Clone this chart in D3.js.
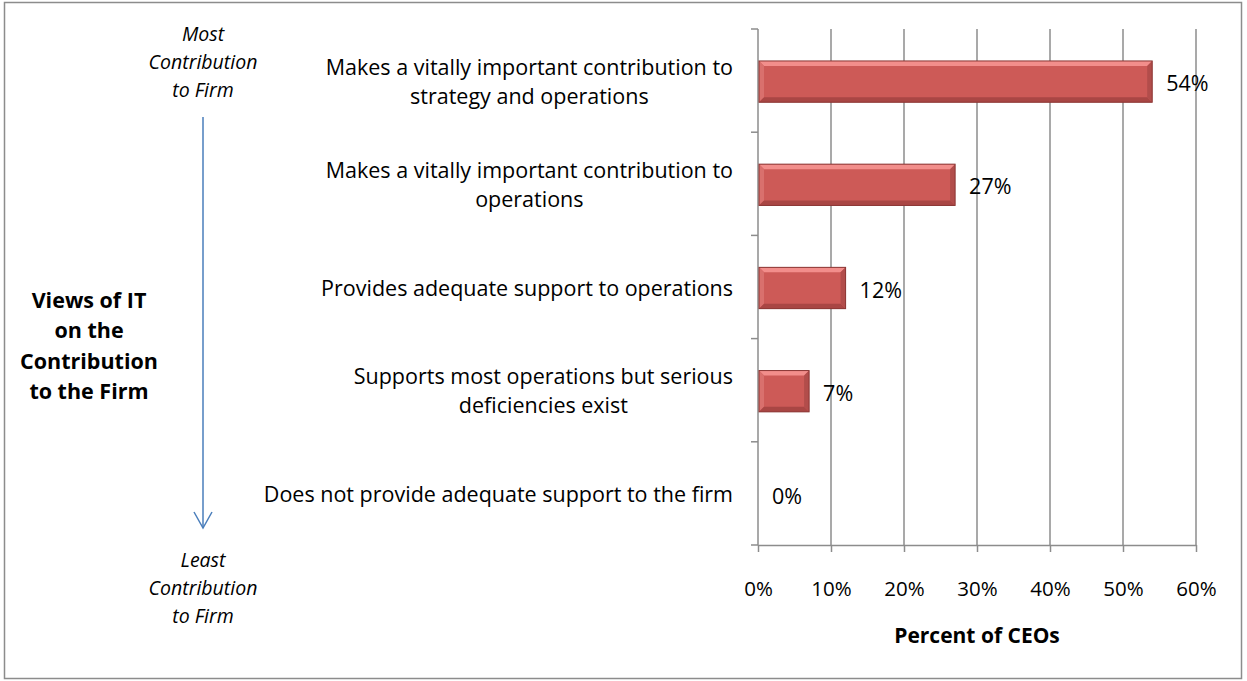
<!DOCTYPE html>
<html>
<head>
<meta charset="utf-8">
<script src="https://cdn.jsdelivr.net/npm/d3@7"></script>
<style>
  html, body { margin: 0; padding: 0; background: #fff; }
  svg { display: block; }
  text { font-family: "Open Sans", Carlito, Calibri, Lato, sans-serif; fill: #000; }
</style>
</head>
<body>
<svg id="chart" width="1247" height="681"></svg>
<script>
// Survey responses: how CEOs view IT's contribution to the firm
const categories = [
  ["Makes a vitally important contribution to", "strategy and operations"],
  ["Makes a vitally important contribution to", "operations"],
  ["Provides adequate support to operations"],
  ["Supports most operations but serious", "deficiencies exist"],
  ["Does not provide adequate support to the firm"]
];
const percents = [54, 27, 12, 7, 0];
const xTicks = [0, 10, 20, 30, 40, 50, 60];
const topNote = ["Most", "Contribution", "to Firm"];
const bottomNote = ["Least", "Contribution", "to Firm"];
const sideTitle = ["Views of IT", "on the", "Contribution", "to the Firm"];
const xTitle = "Percent of CEOs";

const svg = d3.select("#chart");
const plot = { left: 758, right: 1196, top: 29, bottom: 545 };
const gridColor = "#8c8c8c";

// outer frame
svg.append("rect").attr("x", 4.5).attr("y", 2.5).attr("width", 1237).attr("height", 676)
  .attr("fill", "#fff").attr("stroke", "#8c8c8c").attr("stroke-width", 1.5);

const x = d3.scaleLinear().domain([0, 60]).range([plot.left, plot.right]);
const y = d3.scaleBand().domain(d3.range(categories.length)).range([plot.top, plot.bottom]);

// vertical gridlines
svg.append("g").selectAll("line").data(xTicks.slice(1)).join("line")
  .attr("x1", d => x(d)).attr("x2", d => x(d))
  .attr("y1", plot.top).attr("y2", plot.bottom)
  .attr("stroke", gridColor).attr("stroke-width", 1.5);

// x axis
const xAxis = svg.append("g").attr("transform", `translate(0,${plot.bottom})`)
  .call(d3.axisBottom(x).tickValues(xTicks).tickFormat(d => d + "%").tickSize(7).tickPadding(29).tickSizeOuter(0));
xAxis.select(".domain").attr("stroke", gridColor).attr("stroke-width", 1.5);
xAxis.selectAll(".tick line").attr("stroke", gridColor).attr("stroke-width", 1.5);
xAxis.selectAll(".tick text").attr("font-size", 20.5).attr("font-family", null);

// y axis: band boundaries as outward ticks
const yBounds = d3.range(categories.length + 1).map(i => plot.top + i * y.step());
svg.append("line").attr("x1", plot.left).attr("x2", plot.left)
  .attr("y1", plot.top).attr("y2", plot.bottom)
  .attr("stroke", gridColor).attr("stroke-width", 1.5);
svg.append("g").selectAll("line").data(yBounds).join("line")
  .attr("x1", plot.left - 7).attr("x2", plot.left)
  .attr("y1", d => d).attr("y2", d => d)
  .attr("stroke", gridColor).attr("stroke-width", 1.5);

// bevelled bars
const barH = y.step() * 0.4;
const bev = 5;
const bars = svg.append("g");
percents.forEach((v, i) => {
  if (v <= 0) return;
  const x0 = x(0) + 1, x1 = x(v);
  const yc = y(i) + y.bandwidth() / 2 + 1;
  const y0 = yc - barH / 2, y1 = yc + barH / 2;
  const b = Math.min(bev, (x1 - x0) / 2);
  const g = bars.append("g");
  g.append("rect").attr("x", x0).attr("y", y0).attr("width", x1 - x0).attr("height", y1 - y0)
    .attr("fill", "#cd5a57");
  const poly = (pts, fill) => g.append("polygon").attr("points", pts.map(p => p.join(",")).join(" ")).attr("fill", fill);
  poly([[x0, y0], [x1, y0], [x1 - b, y0 + b], [x0 + b, y0 + b]], "#f28e8b");
  poly([[x0, y0], [x0 + b, y0 + b], [x0 + b, y1 - b], [x0, y1]], "#d9706d");
  poly([[x0, y1], [x1, y1], [x1 - b, y1 - b], [x0 + b, y1 - b]], "#a94644");
  poly([[x1, y0], [x1, y1], [x1 - b, y1 - b], [x1 - b, y0 + b]], "#b24d4b");
  g.append("rect").attr("x", x0).attr("y", y0).attr("width", x1 - x0).attr("height", y1 - y0)
    .attr("fill", "none").attr("stroke", "#8a3634").attr("stroke-width", 1);
});

// value labels
svg.append("g").selectAll("text").data(percents).join("text")
  .attr("x", d => x(d) + 14)
  .attr("y", (d, i) => y(i) + y.bandwidth() / 2 + 3)
  .attr("dy", "0.35em")
  .attr("font-size", 21.5)
  .text(d => d + "%");

// category labels: centred lines, block right-aligned against the axis
const lineH = 29;
categories.forEach((lines, i) => {
  const g = svg.append("g");
  const texts = lines.map((s, j) => g.append("text")
    .attr("font-size", 21.5)
    .attr("text-anchor", "middle")
    .attr("y", y(i) + y.bandwidth() / 2 + 1 + (j - (lines.length - 1) / 2) * lineH)
    .attr("dy", "0.35em")
    .text(s));
  const wMax = d3.max(texts, t => t.node().getComputedTextLength());
  texts.forEach(t => t.attr("x", 733 - wMax / 2));
});

// x axis title
svg.append("text").attr("x", 977).attr("y", 636).attr("dy", "0.35em")
  .attr("text-anchor", "middle").attr("font-size", 21).attr("font-weight", "bold")
  .text(xTitle);

// left annotations
const noteX = 203;
const noteLines = (lines, y0, opts) => lines.forEach((s, j) => {
  const t = svg.append("text").attr("x", opts.x).attr("y", y0 + j * opts.lh).attr("dy", "0.35em")
    .attr("text-anchor", "middle").attr("font-size", opts.size).text(s);
  if (opts.italic) t.attr("font-style", "italic");
  if (opts.bold) t.attr("font-weight", "bold");
});
noteLines(topNote, 34, { x: noteX, lh: 28, size: 19.5, italic: true });
noteLines(bottomNote, 560, { x: noteX, lh: 28, size: 19.5, italic: true });
noteLines(sideTitle, 300, { x: 89, lh: 30.5, size: 21.5, bold: true });

// downward arrow
const arrowColor = "#4a7ebb";
svg.append("line").attr("x1", noteX).attr("x2", noteX).attr("y1", 117).attr("y2", 528)
  .attr("stroke", arrowColor).attr("stroke-width", 1.5);
svg.append("polyline").attr("points", `${noteX - 9},${512} ${noteX},${528} ${noteX + 9},${512}`)
  .attr("fill", "none").attr("stroke", arrowColor).attr("stroke-width", 1.5);
</script>
</body>
</html>
